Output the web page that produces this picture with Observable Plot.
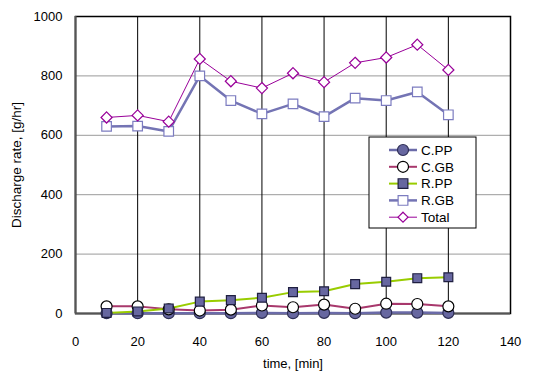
<!DOCTYPE html>
<html>
<head>
<meta charset="utf-8">
<script src="https://cdn.jsdelivr.net/npm/d3@7"></script>
<script src="https://cdn.jsdelivr.net/npm/@observablehq/plot@0.6"></script>
<style>
  html, body { margin: 0; padding: 0; background: #fff; }
  #chart { position: relative; width: 537px; height: 372px; }
  svg { font-family: "Liberation Sans", Arial, sans-serif; }
</style>
</head>
<body>
<div id="chart"></div>
<script>
// Sampling times (min)
const times = [10, 20, 30, 40, 50, 60, 70, 80, 90, 100, 110, 120];

// Discharge rates, g/hr
const cPP   = [1, 1, 1, 1, 1, 2, 1, 2, 1, 3, 3, 2];
const cGB   = [24, 24, 14, 10, 13, 27, 21, 30, 16, 33, 32, 24];
const rPP   = [2, 7, 17, 40, 45, 53, 72, 75, 99, 107, 119, 122];
const rGB   = [630, 631, 613, 800, 717, 672, 706, 663, 725, 717, 746, 669];
const total = [660, 667, 646, 857, 782, 759, 809, 779, 844, 862, 905, 820];

const xTicks = [0, 20, 40, 60, 80, 100, 120, 140];
const yTicks = [0, 200, 400, 600, 800, 1000];

const series = [
  {name: "C.PP",  values: cPP,   line: "#6b6ba8", lw: 2.5, symbol: "circle",   fill: "#6767a0", stroke: "#2e2e55", r: 5.5},
  {name: "C.GB",  values: cGB,   line: "#a8386c", lw: 2,   symbol: "circle",   fill: "#ffffff", stroke: "#000000", r: 5.5},
  {name: "R.PP",  values: rPP,   line: "#99cc00", lw: 2,   symbol: "square",   fill: "#6767a0", stroke: "#1f1f40", r: 5},
  {name: "R.GB",  values: rGB,   line: "#7474b4", lw: 2.5, symbol: "square",   fill: "#ffffff", stroke: "#7c7cc0", r: 5.4},
  {name: "Total", values: total, line: "#990099", lw: 1,   symbol: "diamond2", fill: "#ffffff", stroke: "#990099", r: 5}
];

const rows = series.map(s => times.map((t, i) => ({series: s.name, t, v: s.values[i]})));

const marks = [
  Plot.gridY(yTicks.filter(d => d > 0 && d < 1000), {stroke: "#9a9a9a", strokeOpacity: 1}),
  Plot.ruleX(xTicks.filter(d => d > 0 && d < 140), {stroke: "#000", strokeWidth: 1}),
  Plot.frame({stroke: "#000", strokeWidth: 1.5}),
  Plot.ruleY([0], {stroke: "#555", strokeWidth: 2}),
  Plot.ruleX([0], {stroke: "#555", strokeWidth: 2}),
  Plot.axisX(xTicks, {tickSize: 0, tickPadding: 23, fontSize: 13, fill: "#000", label: null, tickFormat: d3.format("d")}),
  Plot.axisY(yTicks, {tickSize: 0, tickPadding: 13, fontSize: 13, fill: "#000", label: null, tickFormat: d3.format("d")})
];

series.forEach((s, k) => {
  marks.push(Plot.line(rows[k], {x: "t", y: "v", stroke: s.line, strokeWidth: s.lw}));
});
series.forEach((s, k) => {
  marks.push(Plot.dot(rows[k], {x: "t", y: "v", symbol: s.symbol, r: s.r, fill: s.fill, stroke: s.stroke, strokeWidth: 1.2}));
});

const chart = Plot.plot({
  width: 537,
  height: 372,
  marginLeft: 75,
  marginRight: 27,
  marginTop: 16,
  marginBottom: 59,
  x: {domain: [0, 140], label: null},
  y: {domain: [0, 1000], label: null},
  style: {fontFamily: "Liberation Sans, Arial, sans-serif", background: "#fff"},
  marks
});

document.getElementById("chart").appendChild(chart);

// Axis titles and legend, added to the Plot SVG
const svg = d3.select(chart);

svg.append("text")
  .attr("x", 293).attr("y", 368)
  .attr("text-anchor", "middle")
  .attr("font-size", 13)
  .attr("font-weight", "normal")
  .attr("fill", "#000")
  .text("time, [min]");

svg.append("text")
  .attr("transform", "translate(21,165) rotate(-90)")
  .attr("text-anchor", "middle")
  .attr("font-size", 13.5)
  .attr("font-weight", "normal")
  .attr("fill", "#000")
  .text("Discharge rate, [g/hr]");

const legend = svg.append("g").attr("transform", "translate(369,137)");
legend.append("rect")
  .attr("width", 107).attr("height", 91)
  .attr("fill", "#fff").attr("stroke", "#000").attr("stroke-width", 1);

const sym = {circle: d3.symbolCircle, square: d3.symbolSquare, diamond2: d3.symbolDiamond2};
series.forEach((s, i) => {
  const g = legend.append("g").attr("transform", `translate(0,${13 + i * 16.8})`);
  g.append("line")
    .attr("x1", 20).attr("x2", 48)
    .attr("stroke", s.line).attr("stroke-width", s.lw);
  const r = s.symbol === "diamond2" ? 4.5 : 5.5;
  g.append("path")
    .attr("transform", "translate(34,0)")
    .attr("d", d3.symbol(sym[s.symbol], Math.PI * r * r)())
    .attr("fill", s.fill).attr("stroke", s.stroke).attr("stroke-width", 1.2);
  g.append("text")
    .attr("x", 52).attr("dy", "0.35em")
    .attr("text-anchor", "start")
    .attr("font-size", 13.5)
    .attr("font-weight", "normal")
    .attr("fill", "#000")
    .text(s.name);
});
</script>
</body>
</html>
